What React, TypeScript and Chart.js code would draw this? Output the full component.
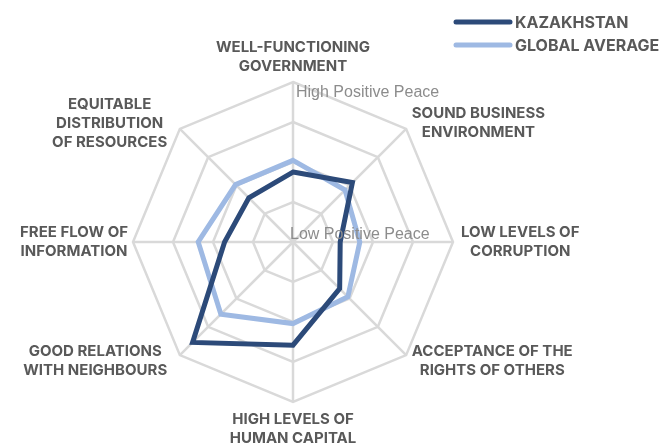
import React, { useEffect, useRef } from "react";
import { Chart, registerables } from "chart.js";

Chart.register(...registerables);

const categories: string[][] = [
  ["WELL-FUNCTIONING", "GOVERNMENT"],
  ["SOUND BUSINESS", "ENVIRONMENT"],
  ["LOW LEVELS OF", "CORRUPTION"],
  ["ACCEPTANCE OF THE", "RIGHTS OF OTHERS"],
  ["HIGH LEVELS OF", "HUMAN CAPITAL"],
  ["GOOD RELATIONS", "WITH NEIGHBOURS"],
  ["FREE FLOW OF", "INFORMATION"],
  ["EQUITABLE", "DISTRIBUTION", "OF RESOURCES"],
];

const kazakhstan: number[] = [1.75, 2.1, 1.18, 1.65, 2.58, 3.55, 1.71, 1.56];
const globalAverage: number[] = [2.04, 1.84, 1.67, 1.94, 2.04, 2.55, 2.37, 2.03];

const seriesNames: string[] = ["KAZAKHSTAN", "GLOBAL AVERAGE"];
const scaleMin = 0;
const scaleMax = 4;
const scaleLabels: string[] = ["Low Positive Peace", "High Positive Peace"];

const LABEL_COLOR = "#595959";
const LABEL_FONT = "bold 15px Inter, 'Noto Sans', sans-serif";
const LEGEND_FONT = "bold 16px Inter, 'Noto Sans', sans-serif";

const customPlugin = {
  id: "customText",
  afterDatasetsDraw(chart: any) {
    const scale = chart.scales.r;
    const ctx = chart.ctx as CanvasRenderingContext2D;
    ctx.save();
    ctx.font = "16px 'Liberation Sans', Arial, sans-serif";
    ctx.fillStyle = "#8c8c8c";
    ctx.textBaseline = "middle";
    ctx.textAlign = "left";
    const top = scale.getPointPosition(0, scale.getDistanceFromCenterForValue(scaleMax));
    ctx.fillText(scaleLabels[1], top.x + 3, top.y + 11);
    ctx.fillText(scaleLabels[0], scale.xCenter - 3, scale.yCenter - 7);
    ctx.restore();
  },
  afterDraw(chart: any) {
    const scale = chart.scales.r;
    const ctx = chart.ctx as CanvasRenderingContext2D;
    ctx.save();
    ctx.font = LABEL_FONT;
    ctx.fillStyle = LABEL_COLOR;
    ctx.textBaseline = "middle";
    ctx.textAlign = "center";
    const lh = 19;
    for (let i = 0; i < categories.length; i++) {
      const lines = categories[i];
      const a = scale.getIndexAngle(i) - Math.PI / 2;
      const c0 = Math.cos(a);
      const s0 = Math.sin(a);
      let pad = 8;
      if (s0 < -0.9) pad = 6;
      if (c0 < -0.9) pad = 5;
      const p = scale.getPointPosition(i, scale.drawingArea + pad);
      const w = Math.max(...lines.map((l) => ctx.measureText(l).width));
      const h = lines.length * lh;
      const c = Math.cos(p.angle);
      const s = Math.sin(p.angle);
      let cx = p.x;
      if (c > 0.1) cx = p.x + w / 2;
      else if (c < -0.1) cx = p.x - w / 2 - (Math.abs(s) > 0.1 ? 7 : 0);
      let ty: number;
      if (s < -0.9) ty = p.y - h;
      else if (s > 0.9) ty = p.y;
      else ty = p.y - h / 2;
      lines.forEach((l, k) => ctx.fillText(l, cx, ty + lh * k + lh / 2));
    }
    // legend
    ctx.textAlign = "left";
    ctx.font = LEGEND_FONT;
    chart.data.datasets.forEach((d: any, j: number) => {
      const y = 22 + j * 23;
      ctx.beginPath();
      ctx.strokeStyle = d.borderColor;
      ctx.lineWidth = 5;
      ctx.lineCap = "round";
      ctx.moveTo(456, y);
      ctx.lineTo(510, y);
      ctx.stroke();
      ctx.fillStyle = LABEL_COLOR;
      ctx.fillText(d.label, 515, y + 1);
    });
    ctx.restore();
  },
};

export default function App() {
  const ref = useRef<HTMLCanvasElement | null>(null);
  useEffect(() => {
    if (!ref.current) return;
    const chart = new Chart(ref.current, {
      type: "radar",
      data: {
        labels: categories.map((c) => c.join(" ")),
        datasets: [
          {
            label: seriesNames[0],
            data: kazakhstan,
            borderColor: "#2c4a79",
            backgroundColor: "transparent",
            borderWidth: 5,
            pointRadius: 0,
            borderJoinStyle: "miter",
            fill: false,
          },
          {
            label: seriesNames[1],
            data: globalAverage,
            borderColor: "#9eb9e3",
            backgroundColor: "transparent",
            borderWidth: 5,
            pointRadius: 0,
            borderJoinStyle: "miter",
            fill: false,
          },
        ],
      },
      options: {
        animation: false,
        responsive: true,
        maintainAspectRatio: false,
        layout: { padding: { left: 133, top: 82, right: 211, bottom: 41 } },
        plugins: { legend: { display: false }, tooltip: { enabled: false } },
        scales: {
          r: {
            min: scaleMin,
            max: scaleMax,
            ticks: { stepSize: 1, display: false },
            grid: { color: "#d9d9d9", lineWidth: 2.5, circular: false },
            angleLines: { color: "#d9d9d9", lineWidth: 2.5 },
            pointLabels: { display: false },
          },
        },
      },
      plugins: [customPlugin],
    });
    return () => chart.destroy();
  }, []);
  return (
    <div style={{ position: "fixed", left: 0, top: 0, width: 664, height: 443 }}>
      <canvas ref={ref} />
    </div>
  );
}
